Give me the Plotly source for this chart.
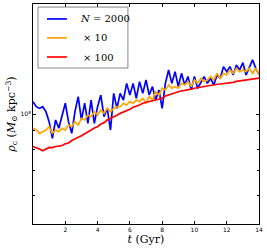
import plotly.graph_objects as go

# time grid (Gyr)
t = [round(0.2 * i, 1) for i in range(71)]

SCALE = 1e8  # values below are in units of 1e8 M_sun kpc^-3

rho_N2000 = [1.081, 1.047, 1.036, 1.047, 1.015, 0.953, 0.858, 0.963, 0.914, 0.994,
             1.070, 0.953, 0.885, 1.015, 1.116, 0.963, 1.070, 0.943, 1.092, 0.943,
             1.047, 1.127, 0.983, 1.036, 0.904, 1.139, 1.036, 1.139, 1.092, 1.213,
             1.127, 1.213, 1.104, 1.226, 1.139, 1.239, 1.127, 1.188, 1.092, 1.164,
             1.036, 1.213, 1.320, 1.213, 1.306, 1.188, 1.292, 1.201, 1.266, 1.164,
             1.266, 1.176, 1.226, 1.266, 1.213, 1.252, 1.201, 1.279, 1.252, 1.348,
             1.306, 1.348, 1.279, 1.362, 1.320, 1.382, 1.279, 1.348, 1.406, 1.334,
             1.279]

rho_x10 = [0.914, 0.904, 0.885, 0.895, 0.904, 0.923, 0.885, 0.904, 0.895, 0.914,
           0.904, 0.933, 0.923, 0.953, 0.933, 0.973, 0.963, 0.994, 0.983, 1.015,
           0.994, 1.026, 1.004, 1.036, 1.015, 1.036, 1.047, 1.047, 1.070, 1.058,
           1.081, 1.070, 1.092, 1.081, 1.104, 1.070, 1.116, 1.092, 1.151, 1.127,
           1.176, 1.164, 1.201, 1.176, 1.188, 1.176, 1.213, 1.201, 1.226, 1.188,
           1.239, 1.213, 1.252, 1.226, 1.239, 1.266, 1.239, 1.292, 1.252, 1.292,
           1.279, 1.320, 1.292, 1.334, 1.306, 1.320, 1.306, 1.334, 1.292, 1.334,
           1.279]

rho_x100 = [0.814, 0.809, 0.802, 0.793, 0.803, 0.810, 0.809, 0.815, 0.817, 0.820,
            0.829, 0.833, 0.846, 0.853, 0.864, 0.872, 0.881, 0.891, 0.904, 0.916,
            0.923, 0.939, 0.947, 0.963, 0.971, 0.979, 0.992, 1.004, 1.011, 1.021,
            1.030, 1.043, 1.050, 1.058, 1.070, 1.076, 1.081, 1.087, 1.092, 1.099,
            1.104, 1.120, 1.127, 1.134, 1.146, 1.151, 1.158, 1.161, 1.164, 1.170,
            1.176, 1.181, 1.183, 1.188, 1.191, 1.198, 1.201, 1.206, 1.208, 1.211,
            1.213, 1.218, 1.221, 1.228, 1.231, 1.236, 1.239, 1.244, 1.247, 1.252,
            1.254]

series_names = ["<i>N</i> = 2000", "× 10", "× 100"]
series_values = [rho_N2000, rho_x10, rho_x100]
series_colors = ["#0000ff", "#ffa500", "#ff0000"]

x_ticks = [2, 4, 6, 8, 10, 12, 14]
y_major = [1e8]
y_major_text = ["10<sup>8</sup>"]
y_minor = [6e7, 7e7, 8e7, 9e7]

fig = go.Figure()
for name, vals, color in zip(series_names, series_values, series_colors):
    fig.add_trace(go.Scatter(
        x=t, y=[v * SCALE for v in vals], mode="lines", name=name,
        showlegend=False, line=dict(color=color, width=1.7)))

serif = "DejaVu Serif"

# hand-drawn legend box (paper coordinates), matplotlib style
shapes = [dict(type="rect", xref="paper", yref="paper",
               x0=0.022, x1=0.420, y0=0.709, y1=0.986,
               line=dict(color="#888888", width=1), fillcolor="white", layer="above")]
annotations = []
row_y = [0.932, 0.846, 0.759]
text_x = [0.199, 0.212, 0.212]
for name, color, ry, tx in zip(series_names, series_colors, row_y, text_x):
    shapes.append(dict(type="line", xref="paper", yref="paper",
                       x0=0.062, x1=0.150, y0=ry, y1=ry,
                       line=dict(color=color, width=1.7), layer="above"))
    annotations.append(dict(xref="paper", yref="paper", x=tx, y=ry,
                            xanchor="left", yanchor="middle", showarrow=False,
                            text=name, font=dict(family=serif, size=10, color="black")))

fig.update_layout(
    width=267, height=251,
    margin=dict(l=33, r=8, t=4, b=27),
    paper_bgcolor="white", plot_bgcolor="white",
    showlegend=False,
    shapes=shapes, annotations=annotations,
    xaxis=dict(range=[0, 14], tickvals=x_ticks, ticks="inside", ticklen=3,
               tickcolor="black", showline=True, linecolor="black", linewidth=1,
               mirror="ticks", showgrid=False, zeroline=False,
               tickfont=dict(family="DejaVu Sans", size=6, color="black"),
               title=dict(text="<i>t</i> (Gyr)", standoff=3,
                          font=dict(family=serif, size=11, color="black"))),
    yaxis=dict(type="log", range=[7.69897, 8.30103], tickvals=y_major,
               ticktext=y_major_text, ticks="inside", ticklen=3,
               tickcolor="black", showline=True, linecolor="black", linewidth=1,
               mirror="ticks", showgrid=False, zeroline=False,
               tickfont=dict(family="DejaVu Sans", size=6, color="black"),
               minor=dict(tickvals=y_minor, ticks="inside", ticklen=2,
                          tickcolor="black", showgrid=False),
               title=dict(text="<i>ρ</i><sub>c</sub> (<i>M</i><sub>⊙</sub> kpc<sup>−3</sup>)",
                          standoff=2,
                          font=dict(family=serif, size=11, color="black"))),
)

fig.write_html("out.html", config={"displayModeBar": False},
               post_script="document.body.style.margin='0';document.body.style.overflow='hidden';")
